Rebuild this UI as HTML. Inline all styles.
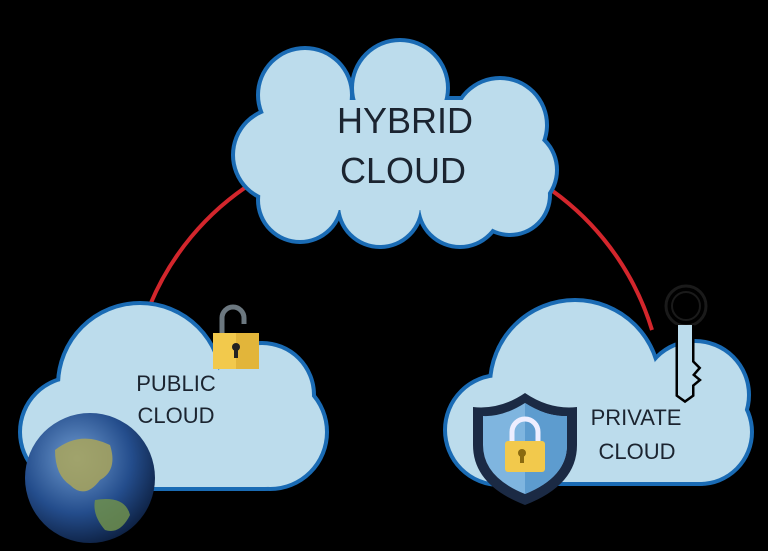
<!DOCTYPE html>
<html><head><meta charset="utf-8"><style>
html,body{margin:0;padding:0;background:#000;}
svg{display:block}
text{font-family:"Liberation Sans","DejaVu Sans",sans-serif;fill:#1b2430;}
</style></head><body>
<svg width="768" height="551" viewBox="0 0 768 551" xmlns="http://www.w3.org/2000/svg">
<defs>
<radialGradient id="earth" cx="40%" cy="35%" r="70%">
<stop offset="0" stop-color="#6f9bd0"/><stop offset="0.6" stop-color="#244d8c"/><stop offset="1" stop-color="#0c1e3e"/>
</radialGradient>
<g id="hyb">
<circle cx="305" cy="95" r="45"/><circle cx="400" cy="88" r="46"/><circle cx="500" cy="125" r="45"/>
<circle cx="515" cy="170" r="40"/><circle cx="280" cy="155" r="45"/><circle cx="300" cy="200" r="40"/>
<circle cx="380" cy="205" r="40"/><circle cx="460" cy="205" r="40"/><circle cx="510" cy="195" r="38"/>
<rect x="290" y="100" width="220" height="110"/>
</g>
<g id="pub">
<circle cx="140" cy="385" r="80"/><circle cx="262" cy="395" r="50"/><circle cx="270" cy="432" r="55"/>
<circle cx="75" cy="432" r="53"/><rect x="75" y="380" width="200" height="107" rx="10"/>
</g>
<g id="pri">
<circle cx="575" cy="385" r="83"/><circle cx="695" cy="395" r="52"/><circle cx="700" cy="432" r="50"/>
<circle cx="500" cy="430" r="53"/><rect x="500" y="380" width="210" height="102" rx="10"/>
</g>
</defs>
<path d="M150 305 A267 267 0 0 1 652 330" fill="none" stroke="#d3262c" stroke-width="4"/>
<g fill="#1a6bb4" stroke="#1a6bb4" stroke-width="8"><use href="#hyb"/><use href="#pub"/><use href="#pri"/></g>
<g fill="#bcdcec"><use href="#hyb"/><use href="#pub"/><use href="#pri"/></g>
<text x="405" y="133" font-size="36" text-anchor="middle">HYBRID</text>
<text x="403" y="183" font-size="36" text-anchor="middle">CLOUD</text>
<text x="176" y="391" font-size="22" text-anchor="middle">PUBLIC</text>
<text x="176" y="423" font-size="22" text-anchor="middle">CLOUD</text>
<text x="636" y="425" font-size="22" text-anchor="middle">PRIVATE</text>
<text x="637" y="459" font-size="22" text-anchor="middle">CLOUD</text>
<!-- globe -->
<circle cx="90" cy="478" r="65" fill="url(#earth)"/>
<path d="M55 450 Q80 430 110 445 Q118 470 100 480 Q85 500 70 485 Q55 475 55 450Z" fill="#a9a45a" opacity="0.85"/>
<path d="M95 500 Q125 495 130 515 Q120 535 105 530 Q92 515 95 500Z" fill="#6f8f4c" opacity="0.85"/>
<!-- padlock open -->
<path d="M222 333 V318 A11 11 0 0 1 244 318 V324" fill="none" stroke="#6c7880" stroke-width="5"/>
<rect x="213" y="333" width="46" height="36" fill="#f2c94c"/>
<rect x="236" y="333" width="23" height="36" fill="#e2b53a"/>
<circle cx="236" cy="347" r="4" fill="#222"/><rect x="234" y="348" width="4" height="10" fill="#222"/>
<!-- shield -->
<path d="M525 393 Q550 410 577 407 V445 Q577 485 525 505 Q473 485 473 445 V407 Q500 410 525 393Z" fill="#1b2a44"/>
<path d="M525 403 Q547 417 567 416 V445 Q567 477 525 494 Q483 477 483 445 V416 Q503 417 525 403Z" fill="#7fb5df"/>
<path d="M525 403 Q547 417 567 416 V445 Q567 477 525 494Z" fill="#5d9ccf"/>
<path d="M512 442 V432 A13 13 0 0 1 538 432 V442" fill="none" stroke="#eef" stroke-width="5"/>
<rect x="505" y="441" width="40" height="31" rx="3" fill="#f2c94c"/>
<circle cx="522" cy="453" r="4" fill="#8a6a10"/><rect x="520" y="454" width="4" height="9" fill="#8a6a10"/>
<!-- key -->
<circle cx="686" cy="306" r="20" fill="none" stroke="#1a1a1a" stroke-width="3"/>
<circle cx="686" cy="306" r="14" fill="none" stroke="#1a1a1a" stroke-width="2"/>
<path d="M678 325 V395 L685 400 L692 395 V385 L698 380 L692 375 L698 368 L692 362 V325" fill="none" stroke="#000" stroke-width="5"/>
<path d="M678 325 V395 L685 400 L692 395 V385 L698 380 L692 375 L698 368 L692 362 V325" fill="#bcdcec"/>
</svg>
</body></html>
